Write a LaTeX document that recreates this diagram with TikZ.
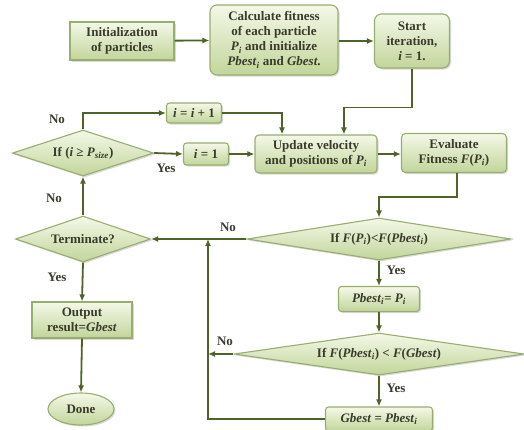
\documentclass[tikz,border=0pt]{standalone}
\usepackage{fontspec}
\setmainfont{Liberation Serif}
\usepackage{tikz}
\usetikzlibrary{
  shapes.geometric,
  arrows.meta,
  shadows
}
\definecolor{boxTop}{HTML}{F4F8E8}
\definecolor{boxBottom}{HTML}{C2D59A}
\definecolor{boxLine}{HTML}{98AE70}
\definecolor{flowLine}{HTML}{4F6228}
\definecolor{flowText}{HTML}{3A3B2C}
\newcommand{\var}[1]{\textit{#1}}

\begin{document}
\begin{tikzpicture}[
  x=1pt,
  y=-1pt,
  every node/.style={
    text=flowText,
    font=\fontsize{13}{15}\selectfont\bfseries,
    inner sep=0pt,
  },
  stepbox/.style={
    draw=boxLine,
    line width=1.1pt,
    top color=boxTop,
    bottom color=boxBottom,
    align=center,
    drop shadow={shadow xshift=1.5pt,shadow yshift=-1.5pt,opacity=0.3},
  },
  roundbox/.style={
    stepbox,
    rounded corners=7pt,
  },
  decision/.style={
    stepbox,
    diamond,
    rounded corners=0pt,
  },
  terminal/.style={
    stepbox,
    ellipse,
  },
  flow/.style={
    draw=flowLine,
    line width=1.8pt,
    -{Latex[length=7pt,width=6pt]},
  },
  tag/.style={
    font=\fontsize{13}{15}\selectfont\bfseries,
  },
]
\useasboundingbox (0,0) rectangle (524,429);
% top row
\node[stepbox,minimum width=104,minimum height=38] (init) at (122,41)
  {Initialization\\of particles};
\node[roundbox,minimum width=128,minimum height=70] (fitness) at (274,40)
  {Calculate fitness\\of each particle\\\var{P}\textsubscript{\var{i}} and initialize\\\var{Pbest}\textsubscript{\var{i}} and \var{Gbest}.};
\node[roundbox,minimum width=75,minimum height=54] (start) at (412,41)
  {Start\\iteration,\\\var{i} = 1.};
% loop over the particles
\node[roundbox,rounded corners=3pt,minimum width=55,minimum height=20] (incr) at (194,113)
  {\var{i} = \var{i} + 1};
\node[decision,shape aspect=3,minimum width=141,minimum height=46] (ifsize) at (83,153)
  {If (\var{i} ≥ \var{P}\textsubscript{\var{size}})};
\node[roundbox,rounded corners=3pt,minimum width=45,minimum height=22] (reset) at (206,154)
  {\var{i} = 1};
\node[roundbox,rounded corners=4pt,minimum width=122,minimum height=38] (update) at (316,154)
  {Update velocity\\and positions of \var{P}\textsubscript{\var{i}}};
\node[roundbox,rounded corners=4pt,minimum width=105,minimum height=39] (evaluate) at (454,153)
  {Evaluate\\Fitness \var{F}(\var{P}\textsubscript{\var{i}})};
% best positions
\node[decision,shape aspect=6,minimum width=264,minimum height=42] (ifpbest) at (379,239)
  {If \var{F}(\var{P}\textsubscript{\var{i}})<\var{F}(\var{Pbest}\textsubscript{\var{i}})};
\node[roundbox,rounded corners=3pt,minimum width=81,minimum height=25] (setpbest) at (379,299)
  {\var{Pbest}\textsubscript{\var{i}}= \var{P}\textsubscript{\var{i}}};
\node[decision,shape aspect=6.5,minimum width=290,minimum height=42] (ifgbest) at (379,354)
  {If \var{F}(\var{Pbest}\textsubscript{\var{i}}) < \var{F}(\var{Gbest})};
\node[roundbox,rounded corners=3pt,minimum width=107,minimum height=24] (setgbest) at (379,419)
  {\var{Gbest} = \var{Pbest}\textsubscript{\var{i}}};
% end of the run
\node[decision,shape aspect=3,minimum width=135,minimum height=46] (terminate) at (83,239)
  {Terminate?};
\node[stepbox,minimum width=100,minimum height=36] (output) at (82,320)
  {Output\\result=\var{Gbest}};
\node[terminal,minimum width=66,minimum height=32] (done) at (81,409)
  {Done};
\coordinate (loopTop) at (208,239);
\coordinate (loopBottom) at (208,419);
% connectors
\draw[flow] (init) -- (fitness);
\draw[flow] (fitness.east |- start) -- (start);
\draw[flow] (start.south) -- ++(0,39) -| ([xshift=28pt]update.north);
\draw[flow] (ifsize.north) |- (incr.west);
\draw[flow] (incr.east) -| ([xshift=-34pt]update.north);
\draw[flow] (ifsize.east) -- (reset.west);
\draw[flow] (reset.east) -- (update.west);
\draw[flow] (update.east) -- (evaluate.west |- update);
\draw[flow] ([xshift=3pt]evaluate.south) -- ++(0,24) -| (ifpbest.north);
\draw[flow] (ifpbest.west) -- (terminate.east);
\draw[flow] (ifpbest.south) -- (setpbest.north);
\draw[flow] (setpbest.south) -- (ifgbest.north);
\draw[flow] (ifgbest.south) -- (setgbest.north);
\draw[flow] (ifgbest.west) -- (ifgbest.west -| loopTop);
\draw[flow] (setgbest.west) -- (loopBottom) -- (loopTop);
\draw[flow] (terminate.north) -- (ifsize.south);
\draw[flow] (terminate.south) -- (output.north);
\draw[flow] (output.south) -- (done.north);
% branch labels
\node[tag] (noIncr) at (57,119) {No};
\node[tag] (yesReset) at (166,168) {Yes};
\node[tag] (noSize) at (54,198) {No};
\node[tag] (noPbest) at (228,227) {No};
\node[tag] (yesPbest) at (396,270) {Yes};
\node[tag] (noGbest) at (225,341) {No};
\node[tag] (yesGbest) at (396,388) {Yes};
\node[tag] (yesDone) at (57,277) {Yes};
\end{tikzpicture}
\end{document}
